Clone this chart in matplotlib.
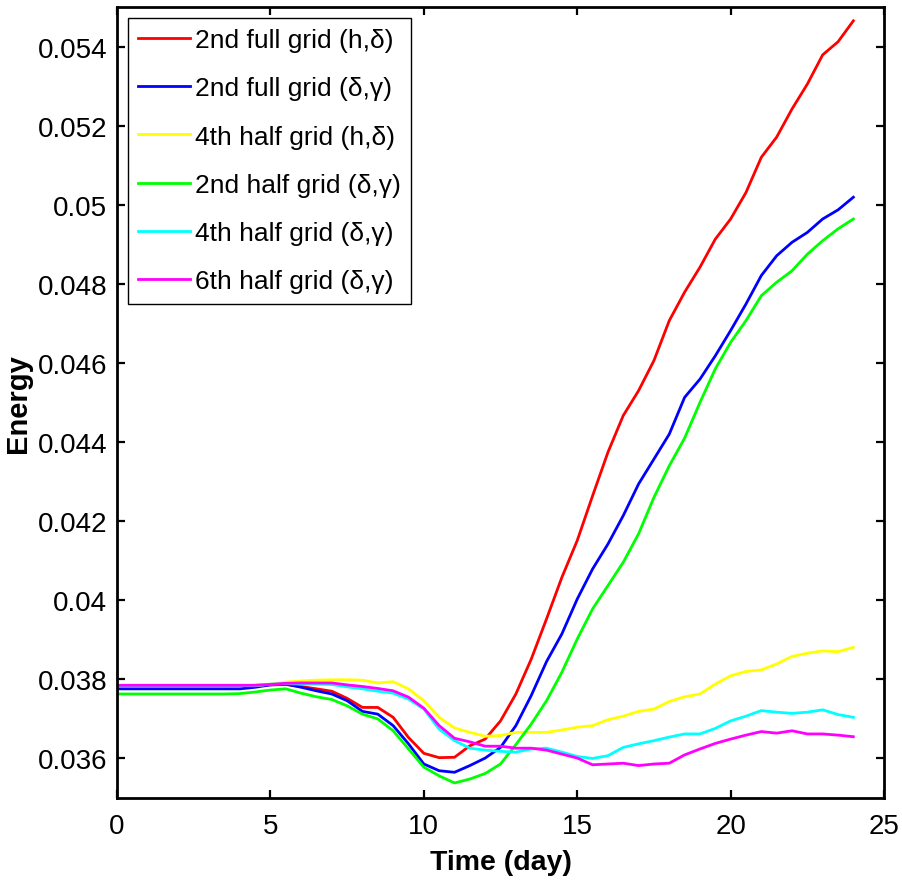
import numpy as np
import matplotlib
matplotlib.use("Agg")
import matplotlib.pyplot as plt

# time axis (day), sampled every half day
t = np.arange(0, 24.5, 0.5)

red = [0.03784, 0.03784, 0.03784, 0.03784, 0.03784, 0.03784, 0.03784, 0.03784, 0.03784, 0.03785,
       0.03786, 0.03787, 0.03782, 0.03776, 0.03770, 0.03752, 0.03729, 0.03729, 0.03704, 0.03653,
       0.03613, 0.03602, 0.03603, 0.03632, 0.03649, 0.03695, 0.03763, 0.03851, 0.03953, 0.04058,
       0.04151, 0.04264, 0.04374, 0.04467, 0.04530, 0.04606, 0.04707, 0.04779, 0.04842, 0.04913,
       0.04964, 0.05031, 0.05120, 0.05171, 0.05242, 0.05305, 0.05379, 0.05412, 0.05465]
blue = [0.03776, 0.03776, 0.03776, 0.03776, 0.03776, 0.03776, 0.03776, 0.03776, 0.03776, 0.03780,
        0.03786, 0.03788, 0.03780, 0.03771, 0.03763, 0.03746, 0.03719, 0.03712, 0.03683, 0.03637,
        0.03586, 0.03569, 0.03565, 0.03582, 0.03601, 0.03628, 0.03683, 0.03759, 0.03845, 0.03915,
        0.04003, 0.04079, 0.04142, 0.04214, 0.04294, 0.04357, 0.04420, 0.04513, 0.04559, 0.04618,
        0.04682, 0.04749, 0.04821, 0.04871, 0.04905, 0.04930, 0.04964, 0.04987, 0.05019]
yellow = [0.03784, 0.03784, 0.03784, 0.03784, 0.03784, 0.03784, 0.03784, 0.03784, 0.03784, 0.03784,
          0.03788, 0.03793, 0.03796, 0.03798, 0.03799, 0.03799, 0.03798, 0.03791, 0.03794, 0.03776,
          0.03746, 0.03704, 0.03677, 0.03666, 0.03656, 0.03658, 0.03666, 0.03666, 0.03666, 0.03672,
          0.03679, 0.03683, 0.03698, 0.03707, 0.03719, 0.03725, 0.03744, 0.03756, 0.03763, 0.03788,
          0.03809, 0.03820, 0.03824, 0.03839, 0.03858, 0.03866, 0.03872, 0.03870, 0.03881]
green = [0.03763, 0.03763, 0.03763, 0.03763, 0.03763, 0.03763, 0.03763, 0.03763, 0.03764, 0.03768,
         0.03773, 0.03776, 0.03765, 0.03756, 0.03749, 0.03733, 0.03712, 0.03700, 0.03670, 0.03624,
         0.03578, 0.03556, 0.03538, 0.03548, 0.03562, 0.03586, 0.03635, 0.03687, 0.03746, 0.03818,
         0.03902, 0.03978, 0.04037, 0.04096, 0.04168, 0.04260, 0.04340, 0.04410, 0.04500, 0.04585,
         0.04652, 0.04707, 0.04770, 0.04804, 0.04833, 0.04875, 0.04909, 0.04939, 0.04964]
cyan = [0.03784, 0.03784, 0.03784, 0.03784, 0.03784, 0.03784, 0.03784, 0.03784, 0.03784, 0.03784,
        0.03788, 0.03789, 0.03788, 0.03788, 0.03787, 0.03781, 0.03776, 0.03770, 0.03765, 0.03750,
        0.03725, 0.03674, 0.03645, 0.03626, 0.03621, 0.03618, 0.03616, 0.03624, 0.03626, 0.03616,
        0.03605, 0.03600, 0.03607, 0.03628, 0.03637, 0.03645, 0.03654, 0.03662, 0.03662, 0.03676,
        0.03695, 0.03707, 0.03721, 0.03717, 0.03714, 0.03717, 0.03723, 0.03711, 0.03704]
magenta = [0.03785, 0.03785, 0.03785, 0.03785, 0.03785, 0.03785, 0.03785, 0.03785, 0.03785, 0.03785,
           0.03787, 0.03790, 0.03791, 0.03791, 0.03791, 0.03786, 0.03782, 0.03777, 0.03771, 0.03755,
           0.03727, 0.03683, 0.03651, 0.03642, 0.03631, 0.03631, 0.03626, 0.03626, 0.03621, 0.03611,
           0.03601, 0.03584, 0.03586, 0.03588, 0.03582, 0.03586, 0.03588, 0.03609, 0.03624, 0.03638,
           0.03649, 0.03659, 0.03668, 0.03664, 0.03670, 0.03662, 0.03662, 0.03659, 0.03655]

labels = ["2nd full grid (h,δ)", "2nd full grid (δ,γ)", "4th half grid (h,δ)",
          "2nd half grid (δ,γ)", "4th half grid (δ,γ)", "6th half grid (δ,γ)"]
colors = ["#ff0000", "#0000ff", "#ffff00", "#00ff00", "#00ffff", "#ff00ff"]

xticks = [0, 5, 10, 15, 20, 25]
yticks = [0.036, 0.038, 0.040, 0.042, 0.044, 0.046, 0.048, 0.050, 0.052, 0.054]
ytick_labels = ["0.036", "0.038", "0.04", "0.042", "0.044", "0.046", "0.048", "0.05", "0.052", "0.054"]

plt.rcParams["font.family"] = ["Liberation Sans", "DejaVu Sans"]

fig = plt.figure(figsize=(9.03, 8.87), dpi=100)
ax = fig.add_axes([0.1296, 0.0992, 0.8494, 0.8918])

series = [red, blue, yellow, green, cyan, magenta]
for s, c, lab in zip(series, colors, labels):
    ax.plot(t, s, color=c, lw=2, label=lab)

ax.set_xlim(0, 25)
ax.set_ylim(0.035, 0.055)
ax.set_xticks(xticks)
ax.set_yticks(yticks)
ax.set_yticklabels(ytick_labels)
ax.tick_params(direction="in", length=6, width=1.6, top=True, right=True, labelsize=20)
ax.tick_params(axis="x", pad=11)
ax.tick_params(axis="y", pad=7)
for sp in ax.spines.values():
    sp.set_linewidth(2)

ax.set_xlabel("Time (day)", fontsize=20.5, fontweight="bold", labelpad=7)
ax.set_ylabel("Energy", fontsize=21, fontweight="bold", labelpad=4)

leg = ax.legend(loc="upper left", fontsize=19, frameon=True, fancybox=False, framealpha=1,
                edgecolor="black", handlelength=1.95, handletextpad=0.2, labelspacing=0.92,
                borderpad=0.4, borderaxespad=0.4)
leg.get_frame().set_linewidth(1.0)

fig.savefig("out.png", dpi=100)
